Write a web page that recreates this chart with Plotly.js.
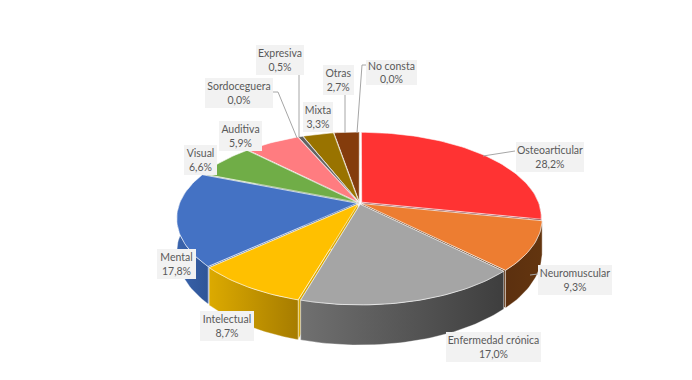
<!DOCTYPE html>
<html><head><meta charset="utf-8">
<script src="https://cdn.plot.ly/plotly-3.0.1.min.js"></script>
<style>html,body{margin:0;padding:0;background:#fff}#c{width:692px;height:380px}</style>
</head><body><div id="c"></div>
<script>
// DATA
const categories = ["Osteoarticular","Neuromuscular","Enfermedad crónica","Intelectual","Mental","Visual","Auditiva","Sordoceguera","Expresiva","Mixta","Otras","No consta"];
const values = [28.2,9.3,17.0,8.7,17.8,6.6,5.9,0.0,0.5,3.3,2.7,0.0];

// STYLE
const topColors = ["#ff3333","#ed7d31","#a5a5a5","#ffc000","#4472c4","#70ad47","#ff7c80","#7f7f7f","#636363","#997300","#843c0c","#444444"];
const wallLeft  = ["#7a1c1c","#5c300f","#707070","#dcaa00","#3a64ad","#4f7a32","#b35759","#555555","#444444","#6b5100","#5c2a08","#333333"];
const wallRight = ["#7a1c1c","#63350f","#3e3e3e","#a67c00","#2f5597","#4f7a32","#b35759","#555555","#444444","#6b5100","#5c2a08","#333333"];

// LABEL BOXES [x0,y0,x1,y1] in chart pixels
const labelBoxes = [[516,142,584,172],[538,265,612,295],[446,332,541,362],[200,311,254,341],[157,249,196,279],[184,145,217,175],[219,121,262,151],[205,78,273,108],[256,45,304,75],[303,102,333,132],[323,65,354,95],[366,60,417,85]];
const leaderX = [515,483,null,538,530,null,299,299,null,273,278,297,null,345,345,null,366,362,357];
const leaderY = [151,156,null,274,275,null,75,137,null,92,92,138,null,95,133,null,65,65,133];

// GEOMETRY of the perspective pie
const HUB = [359.5,203], A = 177, B = 82.4, K = 0.176, DEPTH = 33, EXPLODE = 0.016;

function project(u,v){ const den = 1 + K*v; return [HUB[0]+A*u/den, HUB[1]-B*v/den, DEPTH/den]; }
const total = values.reduce((s,x)=>s+x,0);
let cum = 0;
const slices = values.map((val,i)=>{
  const a0 = cum/total*2*Math.PI; cum += val; const a1 = cum/total*2*Math.PI;
  return {i,val,a0,a1,mid:(a0+a1)/2};
}).filter(s=>s.val>0);
slices.sort((p,q)=>Math.cos(q.mid)-Math.cos(p.mid));

const traces = [];
function poly(xs,ys,fill,grad,line){
  const t = {type:"scatter",mode:"lines",x:xs,y:ys,fill:"toself",hoverinfo:"skip",showlegend:false,
    line:line||{width:0,color:"rgba(0,0,0,0)"}};
  if(grad) t.fillgradient = {type:"horizontal",colorscale:[[0,grad[0]],[1,grad[1]]]};
  else t.fillcolor = fill;
  traces.push(t);
}
const paleLine = {color:"rgba(255,255,255,0.65)",width:0.9};
slices.forEach(s=>{
  const ox = EXPLODE*Math.sin(s.mid), oy = EXPLODE*Math.cos(s.mid);
  const n = Math.max(6,Math.ceil((s.a1-s.a0)*40));
  const rim = [];
  for(let j=0;j<=n;j++){ const t = s.a0+(s.a1-s.a0)*j/n; rim.push(project(Math.sin(t)+ox,Math.cos(t)+oy)); }
  const hub = project(ox,oy);
  // radial cut faces
  [rim[0],rim[n]].forEach(p=>{
    poly([hub[0],p[0],p[0],hub[0],hub[0]],[hub[1],p[1],p[1]+p[2],hub[1]+hub[2],hub[1]],wallLeft[s.i],null,paleLine);
  });
  // outer wall, only the part facing the viewer
  const front = rim.filter((p,j)=>{ const t = s.a0+(s.a1-s.a0)*j/n; return Math.cos(t) < 0.2; });
  if(front.length>1){
    const xs = front.map(p=>p[0]).concat(front.map(p=>p[0]).reverse(),[front[0][0]]);
    const ys = front.map(p=>p[1]).concat(front.map(p=>p[1]+p[2]).reverse(),[front[0][1]]);
    poly(xs,ys,null,[wallLeft[s.i],wallRight[s.i]],{color:"rgba(255,255,255,0.5)",width:0.7});
  }
  // top face
  const xs = [hub[0]].concat(rim.map(p=>p[0]),[hub[0]]);
  const ys = [hub[1]].concat(rim.map(p=>p[1]),[hub[1]]);
  poly(xs,ys,topColors[s.i],null,paleLine);
});

traces.push({type:"scatter",mode:"lines",x:leaderX,y:leaderY,hoverinfo:"skip",showlegend:false,
  connectgaps:false,line:{color:"#a6a6a6",width:1}});

const annotations = categories.map((c,i)=>{
  const b = labelBoxes[i];
  return {text:c+"<br>"+values[i].toFixed(1).replace(".",",")+"%",x:(b[0]+b[2])/2,y:(b[1]+b[3])/2,
    xref:"x",yref:"y",xanchor:"center",yanchor:"middle",showarrow:false,align:"center",
    width:b[2]-b[0],height:b[3]-b[1],bgcolor:"#f2f2f2",borderpad:0,borderwidth:0,
    font:{family:"Lato, Liberation Sans, sans-serif",size:10.5,color:"#595959"}};
});

Plotly.newPlot("c",traces,{
  width:692,height:380,margin:{l:0,r:0,t:0,b:0},paper_bgcolor:"#fff",plot_bgcolor:"#fff",showlegend:false,
  xaxis:{range:[0,692],visible:false,fixedrange:true},
  yaxis:{range:[380,0],visible:false,fixedrange:true},
  annotations
},{displayModeBar:false,staticPlot:true});
</script></body></html>
